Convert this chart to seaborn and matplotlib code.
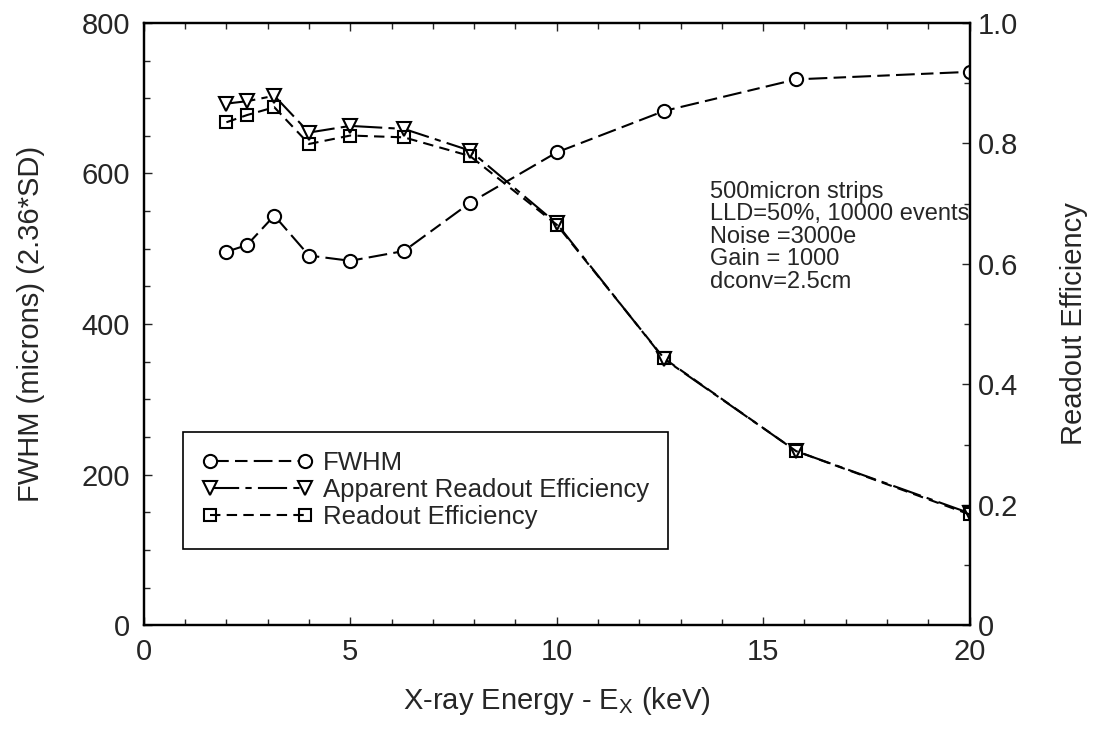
import matplotlib
matplotlib.use("Agg")
import matplotlib.pyplot as plt
from matplotlib.ticker import MultipleLocator
import seaborn as sns
import pandas as pd

# ---- data ----
energy_kev = [2.0, 2.5, 3.16, 4.0, 5.0, 6.3, 7.9, 10.0, 12.6, 15.8, 20.0]
fwhm_microns = [496, 505, 544, 491, 484, 497, 561, 628, 683, 725, 735]
apparent_eff = [0.866, 0.870, 0.879, 0.818, 0.829, 0.824, 0.788, 0.667, 0.442, 0.289, 0.186]
readout_eff = [0.835, 0.847, 0.860, 0.799, 0.813, 0.810, 0.779, 0.665, 0.443, 0.289, 0.184]

series_names = ["FWHM", "Apparent Readout Efficiency", "Readout Efficiency"]
annotation_lines = ["500micron strips", "LLD=50%, 10000 events", "Noise =3000e",
                    "Gain = 1000", "dconv=2.5cm"]

df = pd.DataFrame({"E": energy_kev, "FWHM": fwhm_microns,
                   "App": apparent_eff, "Read": readout_eff})

sns.set_style("ticks")
plt.rcParams["font.family"] = ["Liberation Sans", "DejaVu Sans"]

fig = plt.figure(figsize=(10.98, 7.39), dpi=100)
ax = fig.add_axes([0.131, 0.154, 0.752, 0.815])
ax2 = ax.twinx()

lw = 1.5
ms = 9.5
sns.lineplot(data=df, x="E", y="FWHM", ax=ax, color="black", lw=lw,
             marker="o", markersize=ms, markerfacecolor="white",
             markeredgecolor="black", markeredgewidth=1.5, label=series_names[0],
             legend=False)
l1 = ax.lines[-1]
l1.set_dashes((9, 3, 6, 3))

sns.lineplot(data=df, x="E", y="App", ax=ax2, color="black", lw=lw,
             marker="v", markersize=ms, markerfacecolor="white",
             markeredgecolor="black", markeredgewidth=1.5, label=series_names[1],
             legend=False)
l2 = ax2.lines[-1]
l2.set_dashes((14, 3, 3, 3))

sns.lineplot(data=df, x="E", y="Read", ax=ax2, color="black", lw=lw,
             marker="s", markersize=ms - 1, markerfacecolor="none",
             markeredgecolor="black", markeredgewidth=1.5, label=series_names[2],
             legend=False)
l3 = ax2.lines[-1]
l3.set_dashes((5, 3))

ax.set_xlim(0, 20)
ax.set_ylim(0, 800)
ax2.set_ylim(0, 1.0)

ax.xaxis.set_major_locator(MultipleLocator(5))
ax.xaxis.set_minor_locator(MultipleLocator(1))
ax.yaxis.set_major_locator(MultipleLocator(200))
ax.yaxis.set_minor_locator(MultipleLocator(50))
ax2.yaxis.set_minor_locator(MultipleLocator(0.1))
ax2.set_yticks([0, 0.2, 0.4, 0.6, 0.8, 1.0])
ax2.set_yticklabels(["0", "0.2", "0.4", "0.6", "0.8", "1.0"])

ax.tick_params(axis="both", which="both", direction="in", labelsize=21,
               top=True, right=False)
ax.tick_params(which="major", length=6, width=1)
ax.tick_params(which="minor", length=4, width=1)
ax.tick_params(axis="x", pad=9)
ax.tick_params(axis="y", pad=10)
ax2.tick_params(axis="y", which="both", direction="in", labelsize=21, pad=6)
ax2.tick_params(which="major", length=6, width=1)
ax2.tick_params(which="minor", length=4, width=1)

for a in (ax, ax2):
    for s in a.spines.values():
        s.set_linewidth(1.6)
        s.set_color("black")

ax.set_xlabel("X-ray Energy - E$_\\mathregular{X}$ (keV)", fontsize=21, labelpad=14)
ax.set_ylabel("FWHM (microns) (2.36*SD)", fontsize=21, labelpad=26)
ax2.set_ylabel("Readout Efficiency", fontsize=21, labelpad=30)

ax2.text(0.686, 0.738, "\n".join(annotation_lines), transform=ax2.transAxes,
         fontsize=17, va="top", ha="left", linespacing=1.03)

leg = ax2.legend(handles=[l1, l2, l3], labels=series_names,
                 loc="upper left", bbox_to_anchor=(0.047, 0.321),
                 fontsize=18.5, frameon=True, fancybox=False, framealpha=1,
                 edgecolor="black", numpoints=2, handlelength=4.3,
                 borderpad=0.75, labelspacing=0.12, handletextpad=0.4,
                 borderaxespad=0)
leg.get_frame().set_linewidth(1.2)

fig.savefig("out.png", dpi=100)
